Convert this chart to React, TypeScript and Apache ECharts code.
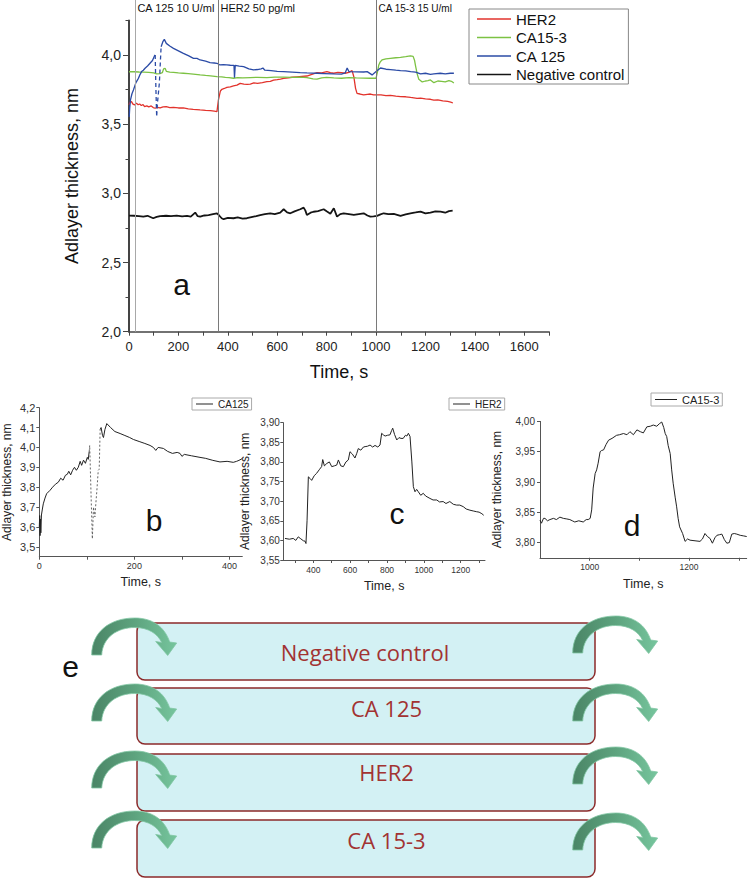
import React, { useEffect, useRef } from 'react';
import * as echarts from 'echarts';

const FONT = '"Liberation Sans", Arial, Helvetica, sans-serif';
const E_FONT = '"Open Sans", "Noto Sans", sans-serif';

// ---------- Panel a: main sensorgram [time s, thickness nm] ----------
const her2Main: number[][] = [
  [0, 3.64], [5, 3.66], [10, 3.663], [16, 3.645], [23, 3.639], [30, 3.652], [37, 3.64], [43, 3.646], [50, 3.635], [57, 3.642],
  [63, 3.627], [72, 3.632], [80, 3.625], [90, 3.632], [98, 3.62], [106, 3.615], [115, 3.622], [126, 3.617], [138, 3.625], [151, 3.627],
  [165, 3.62], [180, 3.622], [200, 3.617], [220, 3.617], [240, 3.61], [260, 3.607], [288, 3.603], [310, 3.6], [330, 3.598], [345, 3.594],
  [356, 3.591], [362, 3.675], [370, 3.74], [376, 3.752], [386, 3.758], [396, 3.766], [410, 3.77], [423, 3.776], [437, 3.782], [450, 3.795],
  [465, 3.79], [478, 3.787], [491, 3.79], [505, 3.798], [520, 3.795], [540, 3.8], [558, 3.807], [572, 3.81], [585, 3.819], [600, 3.822],
  [613, 3.826], [626, 3.831], [645, 3.835], [660, 3.839], [680, 3.842], [700, 3.845], [720, 3.848], [740, 3.86], [761, 3.872], [780, 3.87],
  [801, 3.88], [815, 3.872], [829, 3.868], [845, 3.874], [860, 3.872], [875, 3.868], [890, 3.874], [903, 3.887], [910, 3.843], [917, 3.759],
  [923, 3.723], [935, 3.718], [950, 3.711], [965, 3.715], [977, 3.718], [990, 3.712], [1000, 3.711], [1020, 3.712], [1040, 3.706], [1058, 3.708],
  [1080, 3.702], [1099, 3.699], [1120, 3.698], [1140, 3.693], [1166, 3.687], [1180, 3.688], [1200, 3.683], [1220, 3.68], [1234, 3.674], [1250, 3.676],
  [1270, 3.668], [1290, 3.664], [1302, 3.66], [1311, 3.653],
];

const ca153Main: number[][] = [
  [0, 3.879], [20, 3.879], [40, 3.877], [60, 3.876], [80, 3.874], [100, 3.87], [112, 3.863], [125, 3.866], [135, 3.872], [140, 3.9],
  [146, 3.904], [151, 3.882], [165, 3.876], [180, 3.874], [200, 3.87], [220, 3.868], [240, 3.865], [260, 3.862], [288, 3.856], [310, 3.852],
  [330, 3.849], [356, 3.844], [375, 3.842], [390, 3.838], [405, 3.836], [423, 3.832], [440, 3.836], [460, 3.834], [491, 3.837], [520, 3.838],
  [558, 3.837], [590, 3.84], [626, 3.84], [660, 3.838], [693, 3.84], [720, 3.837], [745, 3.828], [761, 3.825], [780, 3.835], [800, 3.838],
  [829, 3.834], [860, 3.832], [890, 3.836], [920, 3.834], [950, 3.833], [975, 3.832], [1000, 3.832], [1006, 3.88], [1011, 3.928], [1017, 3.95],
  [1024, 3.964], [1040, 3.972], [1058, 3.976], [1080, 3.98], [1099, 3.983], [1120, 3.988], [1139, 3.993], [1150, 3.99], [1156, 3.96], [1160, 3.92],
  [1167, 3.86], [1173, 3.825], [1187, 3.805], [1200, 3.812], [1210, 3.815], [1220, 3.82], [1234, 3.8], [1250, 3.812], [1265, 3.81], [1280, 3.805],
  [1295, 3.815], [1305, 3.81], [1315, 3.797],
];

const ca125MainA: number[][] = [
  [0, 3.56], [1, 3.554], [3, 3.62], [6, 3.675], [12, 3.72], [18, 3.747], [28, 3.8], [38, 3.831], [45, 3.86], [51, 3.88],
  [58, 3.89], [65, 3.904], [75, 3.92], [85, 3.94], [95, 3.96], [103, 3.993], [106, 4.0],
];
const ca125MainDash: number[][] = [
  [106, 4.0], [109, 3.75], [112, 3.554], [115, 3.65], [119, 3.723], [123, 3.8], [126, 3.916], [130, 4.06],
];
const ca125MainB: number[][] = [
  [130, 4.06], [137, 4.096], [143, 4.113], [151, 4.084], [165, 4.065], [180, 4.048], [200, 4.03], [220, 4.012], [240, 3.995], [261, 3.976],
  [275, 3.975], [288, 3.964], [310, 3.955], [328, 3.945], [345, 3.942], [356, 3.94], [368, 3.928], [382, 3.93], [396, 3.928], [410, 3.926],
  [425, 3.925], [427, 3.835], [430, 3.925], [446, 3.92], [464, 3.916], [485, 3.9], [504, 3.892], [520, 3.895], [535, 3.9], [542, 3.906],
  [550, 3.89], [575, 3.887], [600, 3.882], [626, 3.88], [660, 3.876], [693, 3.872], [720, 3.87], [761, 3.868], [790, 3.866], [829, 3.863],
  [860, 3.862], [875, 3.87], [883, 3.906], [890, 3.88], [920, 3.878], [950, 3.877], [964, 3.88], [984, 3.856], [1000, 3.88], [1018, 3.906],
  [1040, 3.897], [1058, 3.894], [1080, 3.89], [1099, 3.887], [1120, 3.885], [1140, 3.88], [1160, 3.876], [1180, 3.863], [1200, 3.868], [1220, 3.86],
  [1234, 3.863], [1260, 3.868], [1280, 3.864], [1300, 3.868], [1315, 3.868],
];

const negControl: number[][] = [
  [0, 2.839], [20, 2.838], [40, 2.836], [58, 2.832], [75, 2.838], [98, 2.82], [112, 2.83], [126, 2.836], [150, 2.838], [170, 2.835],
  [193, 2.839], [215, 2.833], [235, 2.837], [250, 2.832], [268, 2.861], [278, 2.835], [288, 2.832], [305, 2.84], [322, 2.843], [340, 2.85],
  [356, 2.856], [365, 2.84], [375, 2.82], [383, 2.813], [400, 2.822], [423, 2.82], [440, 2.827], [460, 2.818], [477, 2.82], [500, 2.83],
  [515, 2.836], [531, 2.843], [550, 2.85], [572, 2.856], [590, 2.85], [612, 2.861], [626, 2.885], [640, 2.862], [653, 2.856], [670, 2.87],
  [693, 2.885], [707, 2.897], [714, 2.875], [720, 2.843], [735, 2.86], [747, 2.867], [765, 2.872], [788, 2.885], [800, 2.87], [815, 2.853],
  [829, 2.892], [842, 2.832], [855, 2.85], [869, 2.856], [890, 2.85], [910, 2.844], [930, 2.85], [950, 2.856], [965, 2.84], [977, 2.832],
  [990, 2.834], [1004, 2.837], [1018, 2.848], [1031, 2.856], [1050, 2.85], [1072, 2.851], [1085, 2.845], [1099, 2.837], [1120, 2.848], [1139, 2.856],
  [1160, 2.862], [1180, 2.868], [1200, 2.855], [1220, 2.86], [1240, 2.87], [1261, 2.868], [1280, 2.86], [1295, 2.872], [1310, 2.875],
];

const markerTimes = [24, 360, 1000];
const markerLabels = ['CA 125 10 U/ml', 'HER2 50 pg/ml', 'CA 15-3 15 U/ml'];
const mainYLabels = [2, 2.5, 3, 3.5, 4];
const mainYMinor = [2.25, 2.75, 3.25, 3.75, 4.25];

// ---------- Panel b: CA125 zoom ----------
const bSolidA: number[][] = [
  [0, 3.6], [0.8, 3.657], [1.6, 3.556], [2.4, 3.64], [3.2, 3.57], [4.5, 3.66], [6.5, 3.69], [8.4, 3.716], [12, 3.745], [15.4, 3.767],
  [22.5, 3.784], [28, 3.8], [34, 3.815], [40, 3.825], [45, 3.845], [50, 3.835], [55, 3.86], [59, 3.865], [62, 3.88], [66, 3.862],
  [70, 3.885], [74, 3.9], [78, 3.885], [82, 3.9], [86, 3.93], [89, 3.91], [93, 3.936], [97, 3.92], [101, 3.95], [103, 3.94], [105, 3.98],
];
const bDash: number[][] = [
  [105, 3.98], [106, 4.01], [109, 3.75], [111.6, 3.54], [114, 3.7], [117, 3.65], [119, 3.72], [121, 3.78], [124, 3.885], [126, 3.89], [128, 4.09],
];
const bSolidB: number[][] = [
  [128, 4.09], [130, 4.1], [133, 4.06], [135, 4.05], [138, 4.09], [142, 4.12], [150, 4.1], [159, 4.08], [170, 4.07], [180, 4.06],
  [190, 4.05], [198, 4.04], [210, 4.03], [222, 4.02], [233, 4.01], [240, 4.0], [245, 3.985], [250, 4.0], [261, 3.995], [270, 3.98],
  [280, 3.97], [290, 3.975], [296, 3.97], [300, 3.955], [305, 3.965], [320, 3.958], [338, 3.95], [350, 3.945], [365, 3.935], [380, 3.927],
  [395, 3.93], [408, 3.925], [415, 3.93], [420, 3.935], [427, 3.944],
];
const bYTicks = [3.5, 3.6, 3.7, 3.8, 3.9, 4.0, 4.1, 4.2];
const bXTicks = [0, 100, 200, 300, 400];
const bXLabels = [0, 200, 400];

// ---------- Panel c: HER2 zoom ----------
const cData: number[][] = [
  [246, 3.605], [270, 3.603], [291, 3.605], [305, 3.6], [318, 3.609], [332, 3.604], [346, 3.599], [355, 3.598], [360, 3.592], [366, 3.65],
  [373, 3.762], [382, 3.758], [391, 3.753], [405, 3.765], [418, 3.771], [432, 3.78], [445, 3.788], [451, 3.806], [460, 3.79], [473, 3.796],
  [487, 3.8], [500, 3.788], [514, 3.79], [527, 3.792], [536, 3.805], [549, 3.79], [563, 3.788], [577, 3.8], [590, 3.805], [599, 3.826],
  [612, 3.82], [626, 3.81], [636, 3.822], [644, 3.834], [658, 3.83], [672, 3.838], [681, 3.839], [694, 3.84], [708, 3.843], [722, 3.838],
  [735, 3.842], [750, 3.838], [762, 3.843], [771, 3.873], [780, 3.869], [790, 3.866], [803, 3.868], [816, 3.869], [825, 3.88], [831, 3.886],
  [841, 3.87], [853, 3.856], [865, 3.862], [876, 3.86], [888, 3.86], [900, 3.868], [908, 3.866], [916, 3.873], [925, 3.865], [935, 3.8],
  [943, 3.737], [952, 3.724], [961, 3.73], [970, 3.724], [983, 3.715], [997, 3.72], [1010, 3.713], [1033, 3.707], [1050, 3.703], [1070, 3.703],
  [1085, 3.698], [1105, 3.699], [1120, 3.694], [1141, 3.699], [1160, 3.692], [1178, 3.69], [1195, 3.69], [1214, 3.686], [1230, 3.68], [1250, 3.677],
  [1268, 3.675], [1287, 3.673], [1300, 3.672], [1315, 3.668], [1325, 3.664],
];
const cYTicks = [3.55, 3.6, 3.65, 3.7, 3.75, 3.8, 3.85, 3.9];
const cXTicks = [300, 400, 500, 600, 700, 800, 900, 1000, 1100, 1200, 1300];
const cXLabels = [400, 600, 800, 1000, 1200];

// ---------- Panel d: CA15-3 zoom ----------
const dData: number[][] = [
  [900, 3.837], [903, 3.832], [907, 3.84], [910, 3.84], [915, 3.836], [920, 3.838], [927, 3.84], [933, 3.838], [940, 3.842], [947, 3.84],
  [954, 3.839], [960, 3.838], [965, 3.836], [970, 3.834], [978, 3.836], [987, 3.834], [993, 3.838], [997, 3.838], [1001, 3.84], [1004, 3.854],
  [1007, 3.89], [1011, 3.914], [1014, 3.92], [1017, 3.931], [1021, 3.95], [1024, 3.952], [1028, 3.953], [1033, 3.962], [1038, 3.969], [1045, 3.972],
  [1054, 3.977], [1060, 3.978], [1068, 3.98], [1075, 3.978], [1081, 3.983], [1088, 3.978], [1095, 3.986], [1102, 3.983], [1108, 3.981], [1115, 3.991],
  [1122, 3.992], [1128, 3.994], [1135, 3.992], [1140, 3.996], [1145, 3.999], [1149, 3.99], [1152, 3.98], [1155, 3.975], [1158, 3.96], [1162, 3.947],
  [1165, 3.92], [1168, 3.898], [1172, 3.875], [1175, 3.859], [1178, 3.84], [1181, 3.826], [1187, 3.815], [1192, 3.802], [1197, 3.806], [1202, 3.804],
  [1212, 3.803], [1222, 3.802], [1227, 3.806], [1232, 3.815], [1237, 3.81], [1242, 3.807], [1247, 3.799], [1252, 3.808], [1256, 3.812], [1261, 3.813],
  [1266, 3.814], [1271, 3.805], [1276, 3.799], [1281, 3.8], [1286, 3.814], [1291, 3.815], [1296, 3.814], [1303, 3.812], [1310, 3.811], [1316, 3.81],
];
const dYTicks = [3.8, 3.85, 3.9, 3.95, 4.0];
const dXTicks = [1000, 1100, 1200, 1300];
const dXLabels = [1000, 1200];

// ---------- Panel e: diagram ----------
const boxLabels = ['Negative control', 'CA 125', 'HER2', 'CA 15-3'];

const ARROW_D =
  'M0 38 C0 15 18 1 43 1 C61 1 73 10 78 25 L85 26 L76 38.5 L64 24.5 L70 25.5 C66 17 57 10.5 43 10.5 C26 10.5 11 20 10 38 Z';
echarts.graphic.registerShape('curvedArrow', echarts.graphic.extendPath(ARROW_D, {}));

const comma = (d: number) => (v: number) => v.toFixed(d).replace('.', ',');
const plain = (v: number) => String(Math.round(v));

// main grid geometry
const MAIN = { left: 129, top: 20.4, width: 420, height: 311.3 };
const X_MIN = 0;
const X_MAX = 1700;
const tx = (t: number) => MAIN.left + ((t - X_MIN) / (X_MAX - X_MIN)) * MAIN.width;

function arrowEl(x: number, y: number) {
  return {
    type: 'curvedArrow',
    x,
    y,
    z: 10,
    style: {
      fill: new echarts.graphic.LinearGradient(0, 0, 1, 0, [
        { offset: 0, color: '#4A8566' },
        { offset: 0.5, color: '#5DA37E' },
        { offset: 1, color: '#76C59D' },
      ]),
      stroke: '#80C6A3',
      lineWidth: 0.8,
    },
  };
}

const boxTops = [623, 688, 754, 820];
const boxHeights = [57, 56, 57, 57];
const textCenters = [[365, 652], [386.5, 708], [386.5, 772], [386.5, 840]];
const leftArrowTops = [617, 683, 750, 810];
const rightArrowTops = [615, 683, 746, 812];

const mainGraphic: any[] = [];
markerLabels.forEach((txt, i) => {
  mainGraphic.push({
    type: 'text',
    x: tx(markerTimes[i]) + 2.5,
    y: 8,
    style: { text: txt, fontFamily: FONT, fontSize: i === 2 ? 10 : 11, fill: '#111', align: 'left', verticalAlign: 'middle' },
  });
});
[
  ['a', 181.7, 284],
  ['b', 154, 520.5],
  ['c', 397, 513.5],
  ['d', 632, 525],
  ['e', 70.7, 666],
].forEach(([t, x, y]) => {
  mainGraphic.push({
    type: 'text',
    x,
    y,
    style: { text: t, fontFamily: FONT, fontSize: 30, fill: '#111', align: 'center', verticalAlign: 'middle' },
  });
});
boxLabels.forEach((lab, i) => {
  mainGraphic.push({
    type: 'rect',
    x: 137,
    y: boxTops[i],
    shape: { x: 0, y: 0, width: 458, height: boxHeights[i], r: 8 },
    style: { fill: '#D3F1F4', stroke: '#8C2A2A', lineWidth: 1.5 },
  });
  mainGraphic.push({
    type: 'text',
    x: textCenters[i][0],
    y: textCenters[i][1],
    z: 5,
    style: { text: lab, fontFamily: E_FONT, fontSize: 22, fill: '#A23332', align: 'center', verticalAlign: 'middle' },
  });
});
leftArrowTops.forEach((y) => mainGraphic.push(arrowEl(91.7, y)));
rightArrowTops.forEach((y) => mainGraphic.push(arrowEl(572.7, y)));

const lineSeries = (name: string, data: number[][], color: string, width: number, extra: any = {}) => ({
  type: 'line',
  name,
  data,
  symbol: 'none',
  showSymbol: false,
  color,
  itemStyle: { color },
  lineStyle: { color, width, ...(extra.lineStyle || {}) },
  silent: true,
});

const RED = '#E2332C';
const GREEN = '#7CC243';
const BLUE = '#2B4BA6';
const BLACK = '#151515';

const mainOption: any = {
  animation: false,
  backgroundColor: 'transparent',
  grid: [
    { left: MAIN.left, top: MAIN.top, width: MAIN.width, height: MAIN.height },
    { left: MAIN.left, top: 0, width: MAIN.width, height: MAIN.top + MAIN.height },
  ],
  xAxis: [
    {
      type: 'value',
      gridIndex: 0,
      min: X_MIN,
      max: X_MAX,
      interval: 100,
      name: 'Time, s',
      nameLocation: 'middle',
      nameGap: 31,
      nameTextStyle: { fontFamily: FONT, fontSize: 18, color: '#111' },
      axisLine: { show: true, onZero: false, lineStyle: { color: '#444', width: 1.5 } },
      axisTick: { show: true, inside: false, length: 4, lineStyle: { color: '#444', width: 1 } },
      axisLabel: {
        fontFamily: FONT,
        fontSize: 13,
        color: '#222',
        margin: 8,
        formatter: (v: number) => (v % 200 === 0 ? String(v) : ''),
      },
      splitLine: { show: false },
    },
    { type: 'value', gridIndex: 1, min: X_MIN, max: X_MAX, show: false },
  ],
  yAxis: [
    {
      type: 'value',
      gridIndex: 0,
      position: 'left',
      min: 2,
      max: 4.25,
      name: 'Adlayer thickness, nm',
      nameLocation: 'middle',
      nameGap: 48,
      nameTextStyle: { fontFamily: FONT, fontSize: 18, color: '#111' },
      axisLine: { show: true, onZero: false, lineStyle: { color: '#444', width: 2 } },
      axisTick: { show: true, inside: false, length: 6, customValues: mainYLabels, lineStyle: { color: '#444', width: 1 } },
      axisLabel: { fontFamily: FONT, fontSize: 14, color: '#222', margin: 8, customValues: mainYLabels, formatter: comma(1) },
      splitLine: { show: false },
    },
    {
      type: 'value',
      gridIndex: 0,
      position: 'left',
      min: 2,
      max: 4.25,
      axisLine: { show: false },
      axisTick: { show: true, inside: false, length: 3.5, customValues: mainYMinor, lineStyle: { color: '#444', width: 1 } },
      axisLabel: { show: false },
      splitLine: { show: false },
    },
    { type: 'value', gridIndex: 1, min: 0, max: 1, show: false },
  ],
  legend: {
    orient: 'vertical',
    left: 469,
    top: 9,
    padding: [2.5, 4, 2, 8],
    itemGap: 3.5,
    itemWidth: 34,
    itemHeight: 1.5,
    icon: 'rect',
    borderColor: '#888',
    borderWidth: 1,
    selectedMode: false,
    textStyle: { fontFamily: FONT, fontSize: 15, color: '#111', lineHeight: 15 },
    data: ['HER2', 'CA15-3', 'CA 125', 'Negative control'],
  },
  series: [
    {
      type: 'line',
      name: 'markers',
      xAxisIndex: 1,
      yAxisIndex: 2,
      data: [],
      silent: true,
      markLine: {
        silent: true,
        symbol: ['none', 'none'],
        label: { show: false },
        data: markerTimes.map((t, i) => ({
          xAxis: t,
          lineStyle: { color: i === 0 ? '#A8A8A8' : '#7A7A7A', width: 1, type: 'solid' },
        })),
      },
    },
    lineSeries('HER2', her2Main, RED, 1.3),
    lineSeries('CA15-3', ca153Main, GREEN, 1.3),
    lineSeries('CA 125', ca125MainA, BLUE, 1.3),
    lineSeries('CA 125', ca125MainDash, BLUE, 1.3, { lineStyle: { type: [4, 3] } }),
    lineSeries('CA 125', ca125MainB, BLUE, 1.3),
    lineSeries('Negative control', negControl, BLACK, 1.8),
  ],
  graphic: mainGraphic,
};

function subOption(cfg: any) {
  return {
    animation: false,
    backgroundColor: 'transparent',
    grid: { left: cfg.left, top: cfg.top, width: cfg.width, height: cfg.height },
    xAxis: {
      type: 'value',
      min: cfg.xMin,
      max: cfg.xMax,
      name: 'Time, s',
      nameLocation: 'middle',
      nameGap: cfg.xNameGap,
      nameTextStyle: { fontFamily: FONT, fontSize: 12.5, color: '#222' },
      axisLine: { show: true, onZero: false, lineStyle: { color: '#555', width: 1 } },
      axisTick: { show: true, inside: false, length: 3, customValues: cfg.xTicks, lineStyle: { color: '#555' } },
      axisLabel: { fontFamily: FONT, fontSize: cfg.xFont, color: '#333', margin: 5, customValues: cfg.xLabels, formatter: plain },
      splitLine: { show: false },
    },
    yAxis: {
      type: 'value',
      min: cfg.yMin,
      max: cfg.yMax,
      name: 'Adlayer thickness, nm',
      nameLocation: 'middle',
      nameGap: cfg.yNameGap,
      nameTextStyle: { fontFamily: FONT, fontSize: 12, color: '#222' },
      axisLine: { show: true, onZero: false, lineStyle: { color: '#555', width: 1 } },
      axisTick: { show: true, inside: false, length: 3, customValues: cfg.yTicks, lineStyle: { color: '#555' } },
      axisLabel: {
        fontFamily: FONT,
        fontSize: cfg.yFont,
        color: '#333',
        margin: cfg.yMargin,
        customValues: cfg.yTicks,
        formatter: comma(cfg.yDec),
      },
      splitLine: { show: false },
    },
    legend: {
      left: cfg.legLeft,
      top: cfg.legTop,
      padding: [1, 3, 1, 4],
      itemWidth: cfg.legItemWidth,
      itemHeight: 1,
      icon: 'rect',
      borderColor: '#AAAAAA',
      borderWidth: 1,
      selectedMode: false,
      textStyle: { fontFamily: FONT, fontSize: cfg.legFont, color: '#222', lineHeight: cfg.legFont },
      data: [cfg.name],
    },
    series: cfg.series,
  };
}

const optB = subOption({
  left: 39.3, top: 407.7, width: 203, height: 149,
  xMin: 0, xMax: 427, yMin: 3.45, yMax: 4.2,
  xTicks: bXTicks, xLabels: bXLabels, yTicks: bYTicks, yDec: 1,
  xFont: 9, yFont: 11, yMargin: 4, xNameGap: 19, yNameGap: 26,
  legLeft: 192, legTop: 398, legItemWidth: 17, legFont: 10, name: 'CA125',
  series: [
    lineSeries('CA125', bSolidA, '#222', 1),
    lineSeries('CA125 injection', bDash, '#555', 0.9, { lineStyle: { type: [2, 2] } }),
    lineSeries('CA125', bSolidB, '#222', 1),
  ],
});

const optC = subOption({
  left: 283.3, top: 422.7, width: 201.7, height: 137.3,
  xMin: 237, xMax: 1332, yMin: 3.55, yMax: 3.9,
  xTicks: cXTicks, xLabels: cXLabels, yTicks: cYTicks, yDec: 2,
  xFont: 8.5, yFont: 10, yMargin: 3.5, xNameGap: 19.5, yNameGap: 32,
  legLeft: 449, legTop: 398, legItemWidth: 17, legFont: 10, name: 'HER2',
  series: [lineSeries('HER2', cData, '#222', 1)],
});

const optD = subOption({
  left: 540, top: 421.4, width: 206.7, height: 136.35,
  xMin: 900, xMax: 1316, yMin: 3.775, yMax: 4.0,
  xTicks: dXTicks, xLabels: dXLabels, yTicks: dYTicks, yDec: 2,
  xFont: 8.5, yFont: 10, yMargin: 5, xNameGap: 20, yNameGap: 37.5,
  legLeft: 651, legTop: 393, legItemWidth: 22, legFont: 11, name: 'CA15-3',
  series: [lineSeries('CA15-3', dData, '#222', 1)],
});

function Chart({ option }: { option: any }) {
  const ref = useRef<HTMLDivElement>(null);
  useEffect(() => {
    if (!ref.current) return;
    const chart = echarts.init(ref.current, null, { renderer: 'svg', width: 750, height: 878 });
    chart.setOption(option);
    return () => chart.dispose();
  }, [option]);
  return <div ref={ref} style={{ position: 'absolute', left: 0, top: 0, width: 750, height: 878 }} />;
}

export default function App() {
  return (
    <div style={{ position: 'absolute', left: 0, top: 0, width: 750, height: 878, background: '#fff', overflow: 'hidden' }}>
      <Chart option={mainOption} />
      <Chart option={optB} />
      <Chart option={optC} />
      <Chart option={optD} />
    </div>
  );
}
